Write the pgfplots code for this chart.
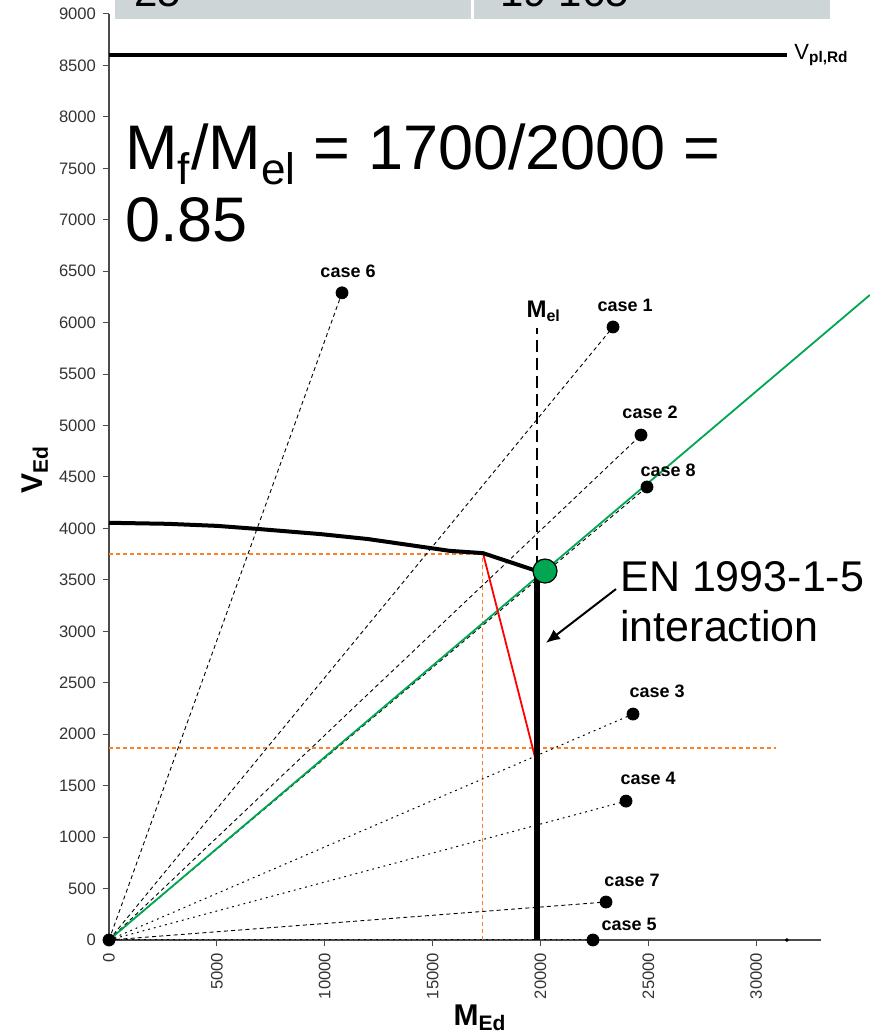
\documentclass[border=0pt]{standalone}
\usepackage{fontspec}
\setmainfont{Liberation Sans}
\usepackage{pgfplots}
\pgfplotsset{compat=1.18}
\usetikzlibrary{arrows.meta}
\definecolor{ggreen}{HTML}{00A651}
\definecolor{orng}{HTML}{FF7F27}
\definecolor{tblgray}{HTML}{CDD5D7}
\begin{document}
\begin{tikzpicture}[x=1pt,y=1pt]
\useasboundingbox (0,0) rectangle (435,518);
\fill[tblgray] (57.5,508.5) rectangle (235.5,530);
\fill[tblgray] (237,508.5) rectangle (415,530);
\node[anchor=base west,font=\fontsize{21}{21}\selectfont,inner sep=0pt] at (67,514.5) {25};
\node[anchor=base west,font=\fontsize{21}{21}\selectfont,inner sep=0pt] at (250,514.5) {19 165};
\begin{axis}[
  at={(54.5pt,48pt)}, anchor=south west,
  width=356pt, height=463pt, scale only axis,
  xmin=0, xmax=33000, ymin=0, ymax=9000,
  axis lines=left, axis line style={-, draw=black!70, line width=0.6pt},
  xtick={0,5000,...,30000}, ytick={0,500,...,9000},
  tick align=outside, major tick length=3pt, tick style={black!70, line width=0.5pt},
  scaled ticks=false,
  /pgf/number format/1000 sep={},
  /pgf/number format/assume math mode=true,
  ticklabel style={font=\fontsize{8.3}{8.3}\selectfont, text=black!80},
  x tick label style={rotate=90, anchor=east},
  clip=false,
]
% V_pl,Rd
\addplot[black, line width=2pt] coordinates {(0,8600)(31420,8600)};
\addplot[only marks, mark=*, mark size=0.7pt, black] coordinates {(31420,0)};
% orange guides
\addplot[orng, dash pattern=on 2pt off 1.5pt, line width=0.6pt] coordinates {(0,3752)(17334,3752)};
\addplot[orng, dash pattern=on 2pt off 1.5pt, line width=0.6pt] coordinates {(17300,0)(17300,3752)};
\addplot[orng, dash pattern=on 2pt off 1.5pt, line width=0.6pt] coordinates {(0,1866)(30900,1866)};
% case lines
\addplot[black, line width=0.45pt, dash pattern=on 2pt off 1.6pt] coordinates {(0,0)(10800,6290)};
\addplot[black, line width=0.45pt, dash pattern=on 2pt off 1.6pt] coordinates {(0,0)(23360,5958)};
\addplot[black, line width=0.45pt, dash pattern=on 2pt off 1.6pt] coordinates {(0,0)(24657,4908)};
\addplot[black, line width=0.45pt, dash pattern=on 2pt off 1.6pt] coordinates {(0,0)(24935,4403)};
\addplot[black, line width=0.5pt, dash pattern=on 0.9pt off 2pt] coordinates {(0,0)(24287,2196)};
\addplot[black, line width=0.5pt, dash pattern=on 0.9pt off 2pt] coordinates {(0,0)(23963,1350)};
\addplot[black, line width=0.45pt, dash pattern=on 2pt off 1.6pt] coordinates {(0,0)(23035,369)};
\addplot[black, line width=0.5pt, dash pattern=on 0.9pt off 2pt] coordinates {(0,0)(22430,0)};
% green line
\addplot[ggreen, line width=0.9pt] coordinates {(0,0)(35270,6270)};
% red line
\addplot[red, line width=0.9pt] coordinates {(17334,3760)(19837,1701)};
% M_el dashed
\addplot[black, line width=0.9pt, dash pattern=on 6pt off 3pt] coordinates {(19837,3620)(19837,5950)};
% interaction curve
\addplot[black, line width=2pt] coordinates {(0,4055)(2700,4045)(5000,4025)(6900,3995)(9800,3945)(12000,3897)(15800,3782)(17334,3760)(19750,3592)};
\addplot[black, line width=3pt] coordinates {(19837,0)(19837,3600)};
% dots
\addplot[only marks, mark=*, mark size=3pt, black] coordinates {(10800,6290)(23360,5958)(24657,4908)(24935,4403)(24287,2196)(23963,1350)(23035,369)(22430,0)(0,0)};
\addplot[only marks, mark=*, mark size=6pt, mark options={fill=ggreen, draw=black, line width=0.6pt}] coordinates {(20208,3586)};
% labels
\begin{scope}[every node/.style={font=\bfseries\fontsize{9}{9}\selectfont, inner sep=0pt}]
\node at (axis cs:11078,6502) {case 6};
\node at (axis cs:23917,6172) {case 1};
\node at (axis cs:25075,5132) {case 2};
\node at (axis cs:25910,4568) {case 8};
\node at (axis cs:25400,2420) {case 3};
\node at (axis cs:24983,1574) {case 4};
\node at (axis cs:24241,583) {case 7};
\node at (axis cs:24102,156) {case 5};
\end{scope}
\node[font=\bfseries\fontsize{12}{12}\selectfont, inner sep=0pt] at (axis cs:20150,6110) {M\textsubscript{el}};
\node[anchor=west, font=\fontsize{11}{11}\selectfont, inner sep=0pt] at (axis cs:31750,8600) {V\textsubscript{\textbf{pl,Rd}}};
\draw[black, line width=1pt, -{Latex[length=7pt,width=6pt]}] (axis cs:23499,3411) -- (axis cs:20250,2887);
\end{axis}
\node[anchor=base west, font=\fontsize{31.5}{31.5}\selectfont, inner sep=0pt] at (62.5,433) {M\textsubscript{f}/M\textsubscript{el} = 1700/2000 =};
\node[anchor=base west, font=\fontsize{31.5}{31.5}\selectfont, inner sep=0pt] at (62.5,397) {0.85};
\node[anchor=base west, font=\fontsize{21.5}{21.5}\selectfont, inner sep=0pt] at (310,222) {EN 1993-1-5};
\node[anchor=base west, font=\fontsize{21.5}{21.5}\selectfont, inner sep=0pt] at (310,197) {interaction};
\node[rotate=90, font=\bfseries\fontsize{15}{15}\selectfont] at (17.5,283) {V\textsubscript{Ed}};
\node[font=\bfseries\fontsize{15}{15}\selectfont] at (240,9) {M\textsubscript{Ed}};
\end{tikzpicture}
\end{document}
